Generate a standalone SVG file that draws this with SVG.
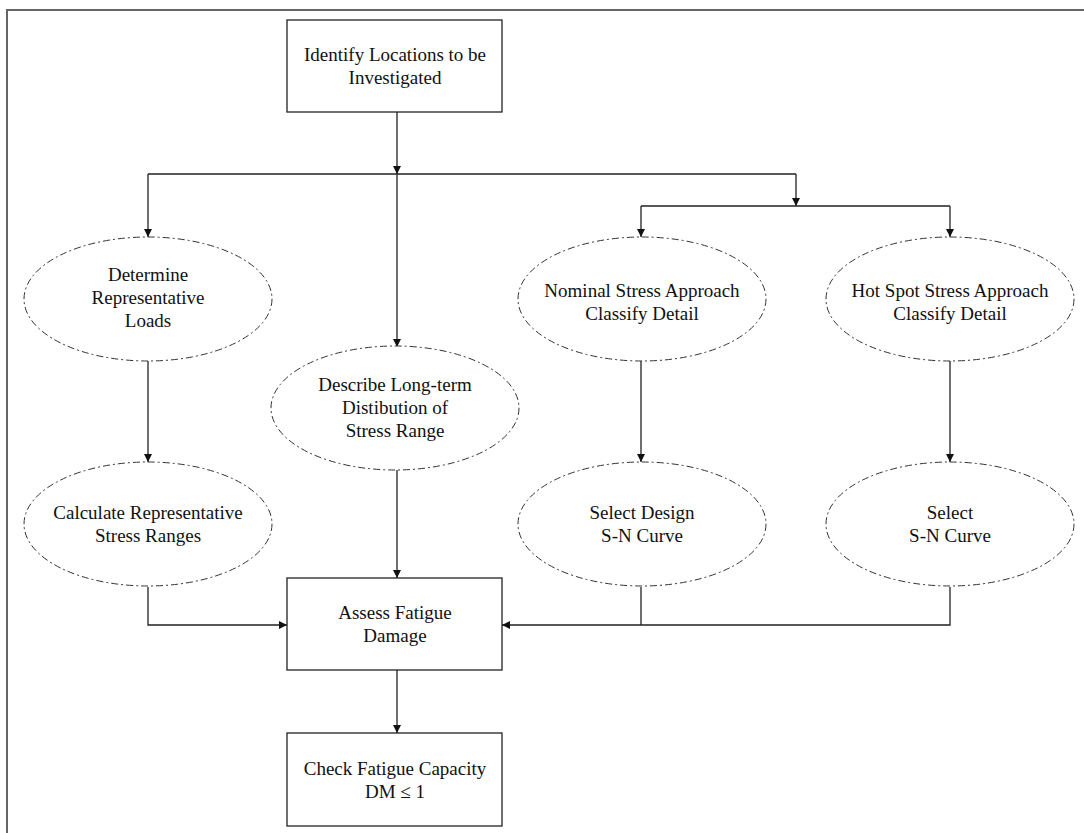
<svg xmlns="http://www.w3.org/2000/svg" width="1084" height="833" viewBox="0 0 1084 833">
  <style>
    .box { fill: #fff; stroke: #222; stroke-width: 1.3; }
    .oval { fill: #fff; stroke: #333; stroke-width: 1; stroke-dasharray: 7 3 2 3; }
    .lbl { font-family: 'Liberation Serif', 'DejaVu Serif', serif; font-size: 19px; fill: #111; text-anchor: middle; }
    .wire { fill: none; stroke: #222; stroke-width: 1.3; }
  </style>
  <defs>
    <marker id="arrow" viewBox="0 0 10 10" refX="10" refY="5" markerWidth="8" markerHeight="8" markerUnits="userSpaceOnUse" orient="auto">
      <path d="M0,0 L10,5 L0,10 Z" fill="#111"/>
    </marker>
  </defs>

  <rect width="1084" height="833" fill="#fff"/>
  <!-- outer frame -->
  <rect x="7" y="10" width="1090" height="840" fill="none" stroke="#666" stroke-width="2"/>

  <g id="connectors">
    <line class="wire" x1="397" y1="112" x2="397" y2="174" marker-end="url(#arrow)"/>
    <polyline class="wire" points="148,174 796,174"/>
    <line class="wire" x1="148" y1="174" x2="148" y2="237" marker-end="url(#arrow)"/>
    <line class="wire" x1="397" y1="174" x2="397" y2="347" marker-end="url(#arrow)"/>
    <line class="wire" x1="796" y1="174" x2="796" y2="206" marker-end="url(#arrow)"/>
    <polyline class="wire" points="641,206 950,206"/>
    <line class="wire" x1="641" y1="206" x2="641" y2="237" marker-end="url(#arrow)"/>
    <line class="wire" x1="950" y1="206" x2="950" y2="237" marker-end="url(#arrow)"/>
    <line class="wire" x1="148" y1="360" x2="148" y2="462" marker-end="url(#arrow)"/>
    <line class="wire" x1="641" y1="360" x2="641" y2="462" marker-end="url(#arrow)"/>
    <line class="wire" x1="950" y1="360" x2="950" y2="462" marker-end="url(#arrow)"/>
    <line class="wire" x1="397" y1="469" x2="397" y2="578" marker-end="url(#arrow)"/>
    <polyline class="wire" points="148,587 148,625 287,625" marker-end="url(#arrow)"/>
    <polyline class="wire" points="950,587 950,625 502,625" marker-end="url(#arrow)"/>
    <line class="wire" x1="641" y1="587" x2="641" y2="625"/>
    <line class="wire" x1="397" y1="670" x2="397" y2="733" marker-end="url(#arrow)"/>
  </g>

  <g id="identify">
    <rect class="box" x="287" y="20" width="215" height="92"/>
    <text class="lbl" x="395" y="61">Identify Locations to be</text>
    <text class="lbl" x="395" y="84">Investigated</text>
  </g>

  <g id="determine-loads">
    <ellipse class="oval" cx="148" cy="299" rx="124" ry="62"/>
    <text class="lbl" x="148" y="281">Determine</text>
    <text class="lbl" x="148" y="304">Representative</text>
    <text class="lbl" x="148" y="327">Loads</text>
  </g>

  <g id="describe-distribution">
    <ellipse class="oval" cx="395" cy="408" rx="124" ry="62"/>
    <text class="lbl" x="395" y="391">Describe Long-term</text>
    <text class="lbl" x="395" y="414">Distibution of</text>
    <text class="lbl" x="395" y="437">Stress Range</text>
  </g>

  <g id="nominal-stress">
    <ellipse class="oval" cx="642" cy="299" rx="124" ry="62"/>
    <text class="lbl" x="642" y="297">Nominal Stress Approach</text>
    <text class="lbl" x="642" y="320">Classify Detail</text>
  </g>

  <g id="hot-spot-stress">
    <ellipse class="oval" cx="950" cy="299" rx="124" ry="62"/>
    <text class="lbl" x="950" y="297">Hot Spot Stress Approach</text>
    <text class="lbl" x="950" y="320">Classify Detail</text>
  </g>

  <g id="calculate-ranges">
    <ellipse class="oval" cx="148" cy="524" rx="124" ry="62"/>
    <text class="lbl" x="148" y="519">Calculate Representative</text>
    <text class="lbl" x="148" y="542">Stress Ranges</text>
  </g>

  <g id="select-design-curve">
    <ellipse class="oval" cx="642" cy="524" rx="124" ry="62"/>
    <text class="lbl" x="642" y="519">Select Design</text>
    <text class="lbl" x="642" y="542">S-N Curve</text>
  </g>

  <g id="select-curve">
    <ellipse class="oval" cx="950" cy="524" rx="124" ry="62"/>
    <text class="lbl" x="950" y="519">Select</text>
    <text class="lbl" x="950" y="542">S-N Curve</text>
  </g>

  <g id="assess-damage">
    <rect class="box" x="287" y="578" width="215" height="92"/>
    <text class="lbl" x="395" y="619">Assess Fatigue</text>
    <text class="lbl" x="395" y="642">Damage</text>
  </g>

  <g id="check-capacity">
    <rect class="box" x="287" y="733" width="215" height="93"/>
    <text class="lbl" x="395" y="775">Check Fatigue Capacity</text>
    <text class="lbl" x="395" y="798">DM ≤ 1</text>
  </g>
</svg>
